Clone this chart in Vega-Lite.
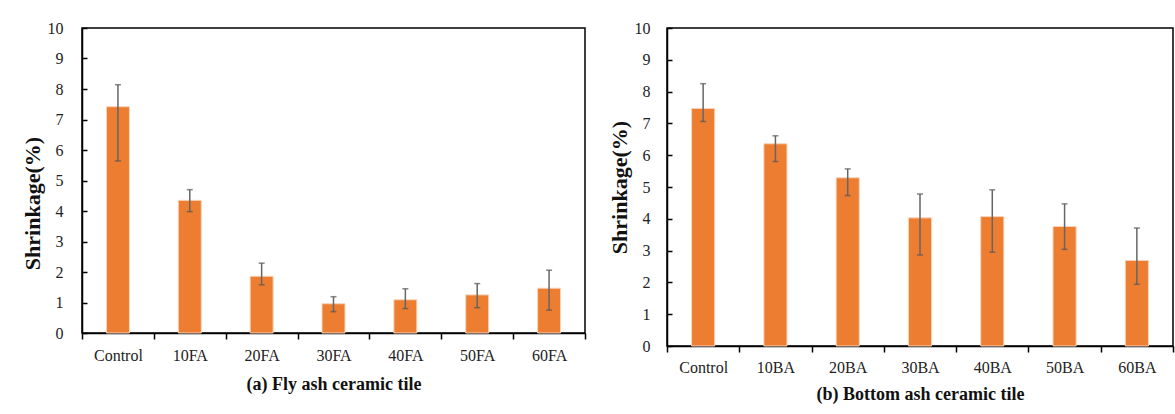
{
  "$schema": "https://vega.github.io/schema/vega-lite/v6.json",
  "background": "white",
  "padding": {"left": 20, "top": 19, "right": 0, "bottom": 0},
  "spacing": 20,
  "datasets": {
    "fa": [
      {"mix": "Control", "value": 7.42, "hi": 8.14, "lo": 5.64},
      {"mix": "10FA", "value": 4.35, "hi": 4.70, "lo": 3.98},
      {"mix": "20FA", "value": 1.86, "hi": 2.29, "lo": 1.58},
      {"mix": "30FA", "value": 0.96, "hi": 1.19, "lo": 0.70},
      {"mix": "40FA", "value": 1.09, "hi": 1.45, "lo": 0.80},
      {"mix": "50FA", "value": 1.25, "hi": 1.62, "lo": 0.83},
      {"mix": "60FA", "value": 1.47, "hi": 2.06, "lo": 0.75}
    ],
    "ba": [
      {"mix": "Control", "value": 7.47, "hi": 8.25, "lo": 7.06},
      {"mix": "10BA", "value": 6.36, "hi": 6.61, "lo": 5.80},
      {"mix": "20BA", "value": 5.29, "hi": 5.57, "lo": 4.73},
      {"mix": "30BA", "value": 4.03, "hi": 4.78, "lo": 2.86},
      {"mix": "40BA", "value": 4.07, "hi": 4.91, "lo": 2.95},
      {"mix": "50BA", "value": 3.76, "hi": 4.47, "lo": 3.04},
      {"mix": "60BA", "value": 2.69, "hi": 3.71, "lo": 1.94}
    ]
  },
  "hconcat": [
    {
      "width": 503,
      "height": 305,
      "data": {"name": "fa"},
      "encoding": {
        "x": {
          "field": "mix", "type": "nominal", "sort": null,
          "scale": {"paddingInner": 0, "paddingOuter": 0},
          "axis": {"title": "(a) Fly ash ceramic tile", "labelPadding": 8, "titlePadding": 12}
        }
      },
      "layer": [
        {
          "mark": {"type": "bar", "color": "#ED7D31", "width": {"band": 0.32}, "stroke": "#F8D5BC", "strokeWidth": 1},
          "encoding": {
            "y": {"field": "value", "type": "quantitative", "title": "Shrinkage(%)",
                  "scale": {"domain": [0, 10]},
                  "axis": {"values": [0,1,2,3,4,5,6,7,8,9,10], "labelOverlap": false, "labelPadding": 24, "titlePadding": 3, "titleY": 175}}
          }
        },
        {
          "mark": {"type": "rule", "color": "#666666", "strokeWidth": 1.5},
          "encoding": {"y": {"field": "lo", "type": "quantitative", "title": "Shrinkage(%)",
                  "axis": {"values": [0,1,2,3,4,5,6,7,8,9,10], "labelOverlap": false, "labelPadding": 24, "titlePadding": 3, "titleY": 175}}, "y2": {"field": "hi"}}
        },
        {
          "mark": {"type": "tick", "color": "#555555", "thickness": 1.5, "size": 6},
          "encoding": {"y": {"field": "lo", "type": "quantitative", "title": "Shrinkage(%)",
                  "axis": {"values": [0,1,2,3,4,5,6,7,8,9,10], "labelOverlap": false, "labelPadding": 24, "titlePadding": 3, "titleY": 175}}}
        },
        {
          "mark": {"type": "tick", "color": "#555555", "thickness": 1.5, "size": 6},
          "encoding": {"y": {"field": "hi", "type": "quantitative", "title": "Shrinkage(%)",
                  "axis": {"values": [0,1,2,3,4,5,6,7,8,9,10], "labelOverlap": false, "labelPadding": 24, "titlePadding": 3, "titleY": 175}}}
        }
      ]
    },
    {
      "width": 506,
      "height": 318,
      "data": {"name": "ba"},
      "encoding": {
        "x": {
          "field": "mix", "type": "nominal", "sort": null,
          "scale": {"paddingInner": 0, "paddingOuter": 0},
          "axis": {"title": "(b) Bottom ash ceramic tile", "labelPadding": 7, "titlePadding": 10}
        }
      },
      "layer": [
        {
          "mark": {"type": "bar", "color": "#ED7D31", "width": {"band": 0.32}, "stroke": "#F8D5BC", "strokeWidth": 1},
          "encoding": {
            "y": {"field": "value", "type": "quantitative", "title": "Shrinkage(%)",
                  "scale": {"domain": [0, 10]},
                  "axis": {"values": [0,1,2,3,4,5,6,7,8,9,10], "labelOverlap": false, "labelPadding": 22, "titlePadding": 3}}
          }
        },
        {
          "mark": {"type": "rule", "color": "#666666", "strokeWidth": 1.5},
          "encoding": {"y": {"field": "lo", "type": "quantitative", "title": "Shrinkage(%)",
                  "axis": {"values": [0,1,2,3,4,5,6,7,8,9,10], "labelOverlap": false, "labelPadding": 22, "titlePadding": 3}}, "y2": {"field": "hi"}}
        },
        {
          "mark": {"type": "tick", "color": "#555555", "thickness": 1.5, "size": 6},
          "encoding": {"y": {"field": "lo", "type": "quantitative", "title": "Shrinkage(%)",
                  "axis": {"values": [0,1,2,3,4,5,6,7,8,9,10], "labelOverlap": false, "labelPadding": 22, "titlePadding": 3}}}
        },
        {
          "mark": {"type": "tick", "color": "#555555", "thickness": 1.5, "size": 6},
          "encoding": {"y": {"field": "hi", "type": "quantitative", "title": "Shrinkage(%)",
                  "axis": {"values": [0,1,2,3,4,5,6,7,8,9,10], "labelOverlap": false, "labelPadding": 22, "titlePadding": 3}}}
        }
      ]
    }
  ],
  "config": {
    "view": {"stroke": "#000000", "strokeWidth": 1.5},
    "axis": {
      "grid": false,
      "domainColor": "#000000",
      "domainWidth": 1.5,
      "tickColor": "#000000",
      "tickWidth": 1.5,
      "labelFont": "Liberation Serif",
      "labelFontSize": 16,
      "labelColor": "#222222",
      "titleFont": "Liberation Serif",
      "titleFontWeight": "bold",
      "titleColor": "#111111"
    },
    "axisX": {"labelAngle": 0, "tickSize": 6, "tickBand": "extent", "titleFontSize": 18, "labelBaseline": "top"},
    "axisY": {"tickSize": -5, "titleFontSize": 22}
  }
}
